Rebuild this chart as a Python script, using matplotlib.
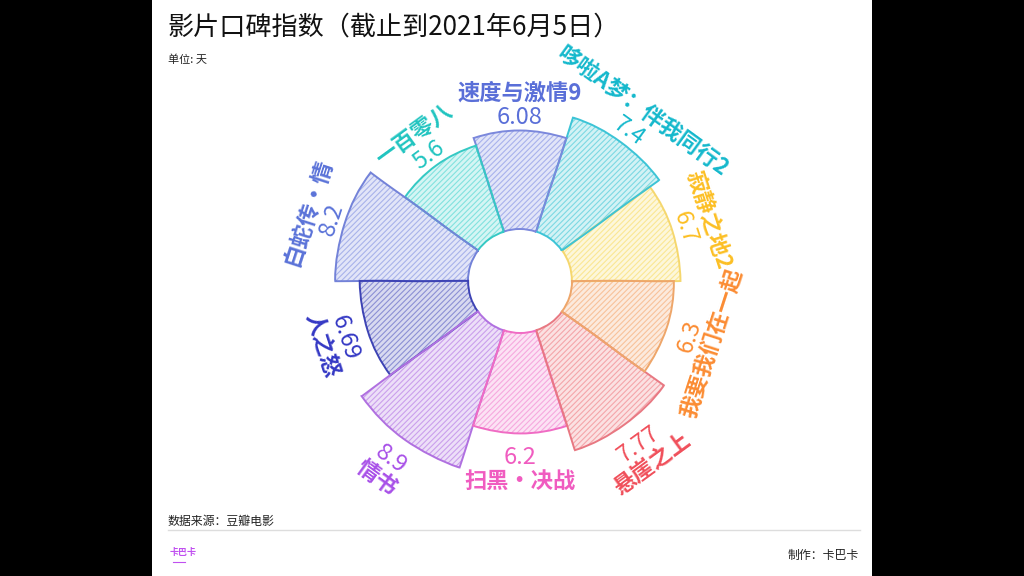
import numpy as np
import matplotlib
matplotlib.use('Agg')
import matplotlib.pyplot as plt
from matplotlib.patches import Rectangle

plt.rcParams['font.family'] = ['Noto Sans CJK SC', 'DejaVu Sans']
plt.rcParams['hatch.linewidth'] = 0.8

# counter-clockwise, starting from the sector right above 3 o'clock
movies = ['寂静之地2', '哆啦A梦：伴我同行2', '速度与激情9', '一百零八', '白蛇传·情',
          '人之怒', '情书', '扫黑·决战', '悬崖之上', '我要我们在一起']
scores = [6.7, 7.4, 6.08, 5.6, 8.2, 6.69, 8.9, 6.2, 7.77, 6.3]
score_labels = ['6.7', '7.4', '6.08', '5.6', '8.2', '6.69', '8.9', '6.2', '7.77', '6.3']

fill_colors = ['#f8d74c', '#26bfd0', '#6f7ee0', '#2fcfc8', '#6f80dc',
               '#3f46b8', '#a860e0', '#f070c8', '#ee6a72', '#f49a58']
edge_colors = ['#f5d76e', '#3cc4d6', '#7b88dc', '#35c9c4', '#7382d8',
               '#3d43b4', '#b070e0', '#f06cc4', '#e87882', '#eea66a']
text_colors = ['#fcbf24', '#14b8cc', '#5a6fd8', '#20c4c0', '#5a72d8',
               '#3438c4', '#a850e8', '#f05cc0', '#f04f5a', '#fb8c33']

W, H = 1024, 576
PX = 16.2       # pixels per unit of score
hole = 3.2      # inner hole radius, in score units
cx, cy = 520, 281

fig = plt.figure(figsize=(W / 100, H / 100), dpi=100, facecolor='black')
fig.add_artist(Rectangle((152 / W, 0), 720 / W, 1, transform=fig.transFigure,
                         facecolor='white', edgecolor='none', zorder=-5))

# polar axes sized so that one radial unit is PX pixels
rmax = 16
size = 2 * rmax * PX
ax = fig.add_axes([(cx - size / 2) / W, (H - cy - size / 2) / H, size / W, size / H],
                  projection='polar')
ax.set_ylim(0, rmax)
ax.axis('off')

n = len(movies)
width = 2 * np.pi / n
thetas = (np.arange(n) + 0.5) * width

for i in range(n):
    ax.bar(thetas[i], scores[i], width=width, bottom=hole, color=fill_colors[i],
           alpha=0.2, linewidth=0, zorder=2)
    ax.bar(thetas[i], scores[i], width=width, bottom=hole, facecolor='none',
           edgecolor=fill_colors[i], alpha=0.5, hatch='//////', linewidth=0, zorder=3)
    outline = ax.bar(thetas[i], scores[i], width=width, bottom=hole, facecolor='none',
                     edgecolor=edge_colors[i], linewidth=1.4, zorder=4)
    outline[0].set_sketch_params(0.2, 100, 2)

for i in range(n):
    deg = np.degrees(thetas[i])
    top = deg < 180
    rot = deg - 90 if top else deg + 90
    # labels sit further out on the flipped lower half
    r_val = hole + scores[i] + (13 if top else 24) / PX
    r_name = hole + scores[i] + (38 if top else 48) / PX
    ax.text(thetas[i], r_val, score_labels[i], color=text_colors[i], fontsize=17,
            rotation=rot, rotation_mode='anchor', ha='center', va='center', zorder=5)
    ax.text(thetas[i], r_name, movies[i], color=text_colors[i], fontsize=16,
            fontweight='bold', rotation=rot, rotation_mode='anchor',
            ha='center', va='center', zorder=5)

# page texts
def page_text(x, y, s, **kw):
    fig.text(x / W, 1 - y / H, s, va='center', **kw)

page_text(168, 27, '影片口碑指数（截止到2021年6月5日）', fontsize=18.8, color='#111111')
page_text(168, 60, '单位: 天', fontsize=8, color='#222222')
page_text(168, 521, '数据来源：豆瓣电影', fontsize=8.6, color='#222222')
page_text(859, 555, '制作：卡巴卡', fontsize=8.6, color='#222222', ha='right')
page_text(170, 553, '卡巴卡', fontsize=6.5, color='#c050f0', fontweight='bold')

fig.add_artist(plt.Line2D([168 / W, 860 / W], [1 - 530 / H, 1 - 530 / H],
                          color='#dddddd', linewidth=1))
fig.add_artist(plt.Line2D([173 / W, 185 / W], [1 - 562 / H, 1 - 562 / H],
                          color='#c050f0', linewidth=0.8))

fig.savefig('out.png', dpi=100, facecolor=fig.get_facecolor())
